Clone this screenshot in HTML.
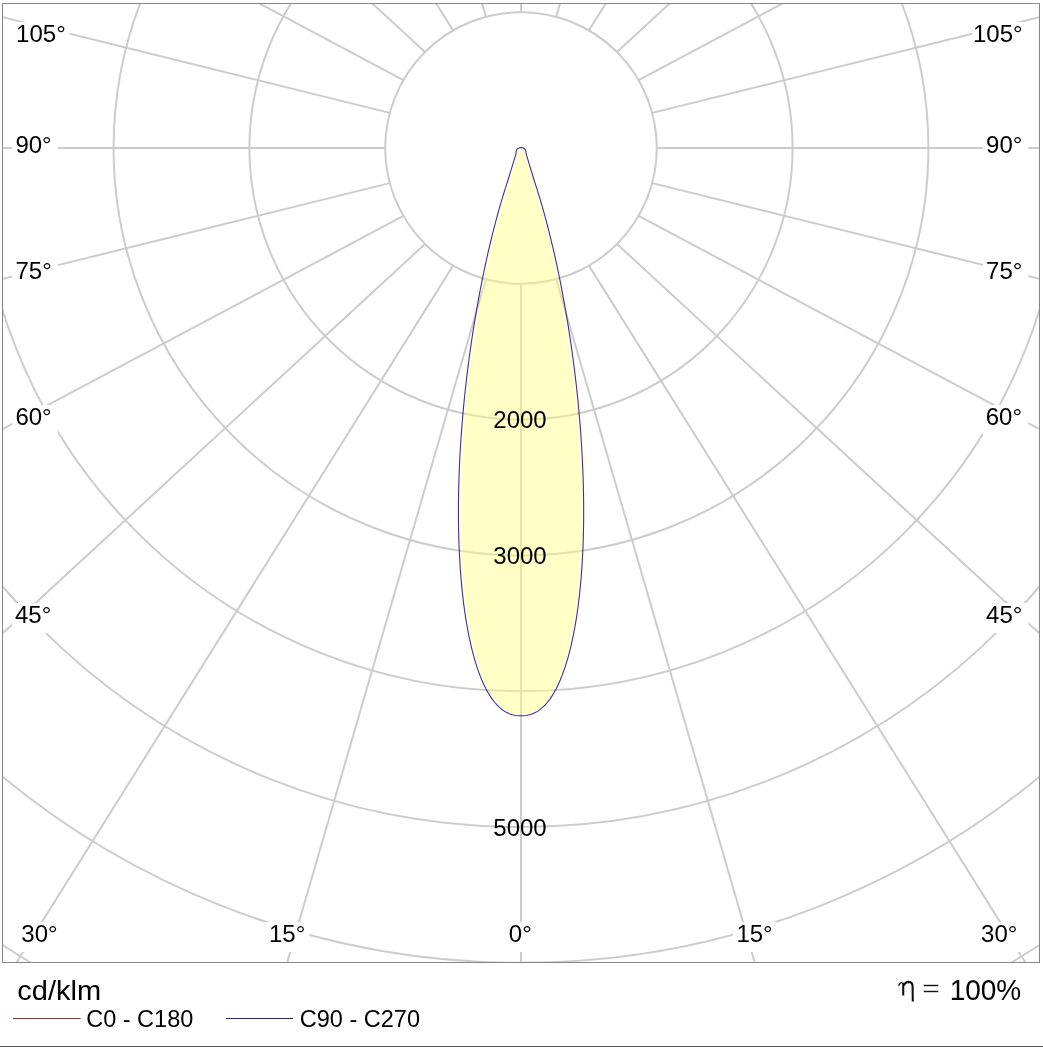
<!DOCTYPE html>
<html><head><meta charset="utf-8"><style>
html,body{margin:0;padding:0;background:#fff;width:1043px;height:1047px;overflow:hidden}
svg{display:block;will-change:transform}
text{font-family:"Liberation Sans", sans-serif;fill:#000}
</style></head><body>
<svg width="1043" height="1047" viewBox="0 0 1043 1047">
<defs><clipPath id="cl"><rect x="2.5" y="3.5" width="1037.0" height="959.0"/></clipPath></defs>
<rect x="0" y="0" width="1043" height="1047" fill="#fff"/>
<g clip-path="url(#cl)">
<g fill="none" stroke="#cccccc" stroke-width="2">
<circle cx="521.0" cy="148.0" r="135.80"/>
<circle cx="521.0" cy="148.0" r="271.60"/>
<circle cx="521.0" cy="148.0" r="407.40"/>
<circle cx="521.0" cy="148.0" r="543.20"/>
<circle cx="521.0" cy="148.0" r="679.00"/>
<circle cx="521.0" cy="148.0" r="814.80"/>
<circle cx="521.0" cy="148.0" r="950.60"/>
<line x1="521.00" y1="283.80" x2="521.00" y2="2283.80"/>
<line x1="556.15" y1="279.17" x2="1114.48" y2="2199.66"/>
<line x1="588.90" y1="265.61" x2="1650.63" y2="1960.52"/>
<line x1="617.03" y1="244.03" x2="2087.67" y2="1599.46"/>
<line x1="638.61" y1="215.90" x2="2404.20" y2="1155.41"/>
<line x1="652.17" y1="183.15" x2="2593.84" y2="662.66"/>
<line x1="656.80" y1="148.00" x2="2656.80" y2="148.00"/>
<line x1="652.17" y1="112.85" x2="2593.84" y2="-366.66"/>
<line x1="638.61" y1="80.10" x2="2404.20" y2="-859.41"/>
<line x1="617.03" y1="51.97" x2="2087.67" y2="-1303.46"/>
<line x1="588.90" y1="30.39" x2="1650.63" y2="-1664.52"/>
<line x1="556.15" y1="16.83" x2="1114.48" y2="-1903.66"/>
<line x1="521.00" y1="12.20" x2="521.00" y2="-1987.80"/>
<line x1="485.85" y1="16.83" x2="-72.48" y2="-1903.66"/>
<line x1="453.10" y1="30.39" x2="-608.63" y2="-1664.52"/>
<line x1="424.97" y1="51.97" x2="-1045.67" y2="-1303.46"/>
<line x1="403.39" y1="80.10" x2="-1362.20" y2="-859.41"/>
<line x1="389.83" y1="112.85" x2="-1551.84" y2="-366.66"/>
<line x1="385.20" y1="148.00" x2="-1614.80" y2="148.00"/>
<line x1="389.83" y1="183.15" x2="-1551.84" y2="662.66"/>
<line x1="403.39" y1="215.90" x2="-1362.20" y2="1155.41"/>
<line x1="424.97" y1="244.03" x2="-1045.67" y2="1599.46"/>
<line x1="453.10" y1="265.61" x2="-608.63" y2="1960.52"/>
<line x1="485.85" y1="279.17" x2="-72.48" y2="2199.66"/>
</g>
<path d="M521.09,713.96 L518.69,713.91 L516.38,713.70 L514.07,713.30 L511.78,712.69 L509.51,711.85 L507.24,710.76 L504.98,709.42 L502.72,707.79 L500.48,705.87 L498.24,703.64 L496.03,701.12 L493.85,698.28 L491.69,695.12 L489.57,691.63 L487.50,687.83 L485.47,683.71 L483.49,679.27 L481.57,674.51 L479.72,669.44 L477.93,664.06 L476.21,658.37 L474.57,652.39 L473.00,646.13 L471.52,639.58 L470.12,632.76 L468.80,625.68 L467.57,618.35 L466.43,610.78 L465.39,602.97 L464.44,594.96 L463.58,586.75 L462.82,578.33 L462.17,569.75 L461.60,561.01 L461.14,552.11 L460.77,543.09 L460.49,533.94 L460.31,524.69 L460.23,515.36 L460.24,505.96 L460.34,496.50 L460.53,486.99 L460.81,477.47 L461.17,467.94 L461.62,458.40 L462.14,448.90 L462.75,439.41 L463.41,429.99 L464.16,420.61 L464.97,411.31 L465.84,402.11 L466.78,392.99 L467.76,383.99 L468.80,375.12 L469.89,366.37 L471.01,357.76 L472.18,349.30 L473.38,341.01 L474.62,332.89 L475.88,324.93 L477.16,317.16 L478.46,309.57 L479.77,302.18 L481.10,294.98 L482.44,287.99 L483.77,281.20 L485.12,274.62 L486.46,268.23 L487.79,262.08 L489.12,256.12 L490.42,250.37 L491.72,244.84 L493.01,239.51 L494.27,234.38 L495.50,229.48 L496.72,224.77 L497.92,220.26 L499.09,215.95 L500.22,211.83 L501.33,207.90 L502.41,204.16 L503.46,200.60 L504.47,197.22 L505.45,194.01 L506.40,190.97 L507.31,188.10 L508.19,185.38 L509.05,182.77 L517.68,154.29 L517.89,151.60 L518.19,150.95 L518.71,150.26 L519.40,149.74 L520.19,149.41 L521.05,149.30 L521.91,149.41 L522.70,149.74 L523.39,150.26 L523.91,150.95 L524.21,151.60 L524.42,154.29 L533.05,182.77 L533.91,185.38 L534.79,188.10 L535.70,190.97 L536.65,194.01 L537.63,197.22 L538.64,200.60 L539.69,204.16 L540.77,207.90 L541.88,211.83 L543.01,215.95 L544.18,220.26 L545.38,224.77 L546.60,229.48 L547.83,234.38 L549.09,239.51 L550.38,244.84 L551.68,250.37 L552.98,256.12 L554.31,262.08 L555.64,268.23 L556.98,274.62 L558.33,281.20 L559.66,287.99 L561.00,294.98 L562.33,302.18 L563.64,309.57 L564.94,317.16 L566.22,324.93 L567.48,332.89 L568.72,341.01 L569.92,349.30 L571.09,357.76 L572.21,366.37 L573.30,375.12 L574.34,383.99 L575.32,392.99 L576.26,402.11 L577.13,411.31 L577.94,420.61 L578.69,429.99 L579.35,439.41 L579.96,448.90 L580.48,458.40 L580.93,467.94 L581.29,477.47 L581.57,486.99 L581.76,496.50 L581.86,505.96 L581.87,515.36 L581.79,524.69 L581.61,533.94 L581.33,543.09 L580.96,552.11 L580.50,561.01 L579.93,569.75 L579.28,578.33 L578.52,586.75 L577.66,594.96 L576.71,602.97 L575.67,610.78 L574.53,618.35 L573.30,625.68 L571.98,632.76 L570.58,639.58 L569.10,646.13 L567.53,652.39 L565.89,658.37 L564.17,664.06 L562.38,669.44 L560.53,674.51 L558.61,679.27 L556.63,683.71 L554.60,687.83 L552.53,691.63 L550.41,695.12 L548.25,698.28 L546.07,701.12 L543.86,703.64 L541.62,705.87 L539.38,707.79 L537.12,709.42 L534.86,710.76 L532.59,711.85 L530.32,712.69 L528.03,713.30 L525.72,713.70 L523.41,713.91 L521.01,713.96 Z" fill="#ffff80" fill-opacity="0.45" stroke="none"/>
<path d="M521.05,715.76 L518.59,715.71 L516.14,715.48 L513.69,715.06 L511.24,714.41 L508.81,713.51 L506.39,712.35 L503.99,710.92 L501.61,709.20 L499.26,707.19 L496.93,704.87 L494.64,702.26 L492.39,699.33 L490.18,696.09 L488.01,692.53 L485.90,688.66 L483.84,684.47 L481.83,679.97 L479.89,675.15 L478.02,670.03 L476.21,664.60 L474.48,658.87 L472.83,652.85 L471.25,646.55 L469.76,639.96 L468.35,633.11 L467.03,625.99 L465.79,618.63 L464.65,611.03 L463.60,603.20 L462.65,595.16 L461.79,586.92 L461.03,578.48 L460.37,569.88 L459.80,561.11 L459.34,552.19 L458.97,543.15 L458.69,533.98 L458.51,524.72 L458.43,515.37 L458.44,505.95 L458.54,496.47 L458.73,486.95 L459.01,477.41 L459.37,467.86 L459.82,458.31 L460.34,448.79 L460.95,439.29 L461.62,429.85 L462.37,420.46 L463.18,411.15 L464.05,401.93 L464.99,392.80 L465.97,383.79 L467.01,374.90 L468.10,366.14 L469.23,357.52 L470.40,349.05 L471.60,340.75 L472.84,332.61 L474.10,324.64 L475.38,316.86 L476.69,309.26 L478.00,301.86 L479.33,294.65 L480.67,287.65 L482.01,280.85 L483.36,274.25 L484.70,267.86 L486.03,261.69 L487.36,255.72 L488.67,249.96 L489.97,244.42 L491.26,239.08 L492.52,233.95 L493.76,229.03 L494.98,224.31 L496.18,219.79 L497.35,215.47 L498.49,211.35 L499.60,207.41 L500.68,203.66 L501.73,200.09 L502.75,196.70 L503.73,193.48 L504.68,190.43 L505.60,187.55 L506.48,184.82 L507.33,182.24 L515.95,153.80 L516.12,151.28 L516.63,150.05 L517.44,148.99 L518.50,148.18 L519.73,147.67 L521.05,147.50 L522.37,147.67 L523.60,148.18 L524.66,148.99 L525.47,150.05 L525.98,151.28 L526.15,153.80 L534.77,182.24 L535.62,184.82 L536.50,187.55 L537.42,190.43 L538.37,193.48 L539.35,196.70 L540.37,200.09 L541.42,203.66 L542.50,207.41 L543.61,211.35 L544.75,215.47 L545.92,219.79 L547.12,224.31 L548.34,229.03 L549.58,233.95 L550.84,239.08 L552.13,244.42 L553.43,249.96 L554.74,255.72 L556.07,261.69 L557.40,267.86 L558.74,274.25 L560.09,280.85 L561.43,287.65 L562.77,294.65 L564.10,301.86 L565.41,309.26 L566.72,316.86 L568.00,324.64 L569.26,332.61 L570.50,340.75 L571.70,349.05 L572.87,357.52 L574.00,366.14 L575.09,374.90 L576.13,383.79 L577.11,392.80 L578.05,401.93 L578.92,411.15 L579.73,420.46 L580.48,429.85 L581.15,439.29 L581.76,448.79 L582.28,458.31 L582.73,467.86 L583.09,477.41 L583.37,486.95 L583.56,496.47 L583.66,505.95 L583.67,515.37 L583.59,524.72 L583.41,533.98 L583.13,543.15 L582.76,552.19 L582.30,561.11 L581.73,569.88 L581.07,578.48 L580.31,586.92 L579.45,595.16 L578.50,603.20 L577.45,611.03 L576.31,618.63 L575.07,625.99 L573.75,633.11 L572.34,639.96 L570.85,646.55 L569.27,652.85 L567.62,658.87 L565.89,664.60 L564.08,670.03 L562.21,675.15 L560.27,679.97 L558.26,684.47 L556.20,688.66 L554.09,692.53 L551.92,696.09 L549.71,699.33 L547.46,702.26 L545.17,704.87 L542.84,707.19 L540.49,709.20 L538.11,710.92 L535.71,712.35 L533.29,713.51 L530.86,714.41 L528.41,715.06 L525.96,715.48 L523.51,715.71 L521.05,715.76 Z" fill="none" stroke="#47307a" stroke-width="1.1" stroke-linejoin="round"/>
<rect x="13.0" y="22.0" width="56.5" height="30.0" fill="#fff"/>
<rect x="12.3" y="133.0" width="45.5" height="30.0" fill="#fff"/>
<rect x="12.4" y="259.0" width="45.5" height="30.0" fill="#fff"/>
<rect x="12.3" y="405.0" width="45.5" height="30.0" fill="#fff"/>
<rect x="11.9" y="603.0" width="45.5" height="30.0" fill="#fff"/>
<rect x="18.2" y="922.0" width="45.5" height="30.0" fill="#fff"/>
<rect x="972.1" y="22.0" width="56.5" height="30.0" fill="#fff"/>
<rect x="982.9" y="133.0" width="45.5" height="30.0" fill="#fff"/>
<rect x="982.9" y="259.0" width="45.5" height="30.0" fill="#fff"/>
<rect x="982.5" y="405.0" width="45.5" height="30.0" fill="#fff"/>
<rect x="982.9" y="603.0" width="45.5" height="30.0" fill="#fff"/>
<rect x="977.9" y="922.0" width="45.5" height="30.0" fill="#fff"/>
<rect x="265.9" y="922.0" width="43.5" height="30.0" fill="#fff"/>
<rect x="505.7" y="922.0" width="31.5" height="30.0" fill="#fff"/>
<rect x="733.3" y="922.0" width="43.5" height="30.0" fill="#fff"/>
<text x="16.1" y="42.0" font-size="24">105°</text>
<text x="15.4" y="153.0" font-size="24">90°</text>
<text x="15.5" y="279.0" font-size="24">75°</text>
<text x="15.4" y="425.0" font-size="24">60°</text>
<text x="15.0" y="623.0" font-size="24">45°</text>
<text x="21.3" y="942.0" font-size="24">30°</text>
<text x="1022.6" y="42.0" font-size="24" text-anchor="end">105°</text>
<text x="1022.4" y="153.0" font-size="24" text-anchor="end">90°</text>
<text x="1022.4" y="279.0" font-size="24" text-anchor="end">75°</text>
<text x="1022.0" y="425.0" font-size="24" text-anchor="end">60°</text>
<text x="1022.4" y="623.0" font-size="24" text-anchor="end">45°</text>
<text x="1017.4" y="942.0" font-size="24" text-anchor="end">30°</text>
<text x="269.0" y="942.0" font-size="24">15°</text>
<text x="508.8" y="942.0" font-size="24">0°</text>
<text x="736.4" y="942.0" font-size="24">15°</text>
</g>
<rect x="2.5" y="3.5" width="1037.0" height="959.0" fill="none" stroke="#878787" stroke-width="1"/>
<text x="520" y="427.8" font-size="24" text-anchor="middle">2000</text>
<text x="520" y="563.8" font-size="24" text-anchor="middle">3000</text>
<text x="520" y="836" font-size="24" text-anchor="middle">5000</text>
<text transform="translate(17.3,999.6) scale(1.075,1)" x="0" y="0" font-size="27">cd/klm</text>
<line x1="13" y1="1018.5" x2="80.7" y2="1018.5" stroke="#723a3a" stroke-width="1"/>
<text x="86.2" y="1026.9" font-size="23.5">C0 - C180</text>
<line x1="226" y1="1018.5" x2="293" y2="1018.5" stroke="#262668" stroke-width="1"/>
<text x="299.8" y="1026.6" font-size="23.5">C90 - C270</text>
<text transform="translate(1021.2,999.7) scale(1,1.05)" x="0" y="0" font-size="28" text-anchor="end">100%</text>
<rect x="923.7" y="984.8" width="14.6" height="1.4" fill="#111"/><rect x="923.7" y="990.8" width="14.6" height="1.4" fill="#111"/>
<path d="M898.5,985.6 Q900.3,982.3 902.3,982.3" fill="none" stroke="#111" stroke-width="1.3"/><path d="M903.2,982.8 L903.2,995.6 M903.2,986.2 Q905.2,981.9 908.6,981.9 Q912.6,982 912.6,986.5 L912.8,1001.6" fill="none" stroke="#111" stroke-width="2.1"/>
<rect x="0" y="1046" width="1043" height="1" fill="#555"/>
</svg></body></html>
